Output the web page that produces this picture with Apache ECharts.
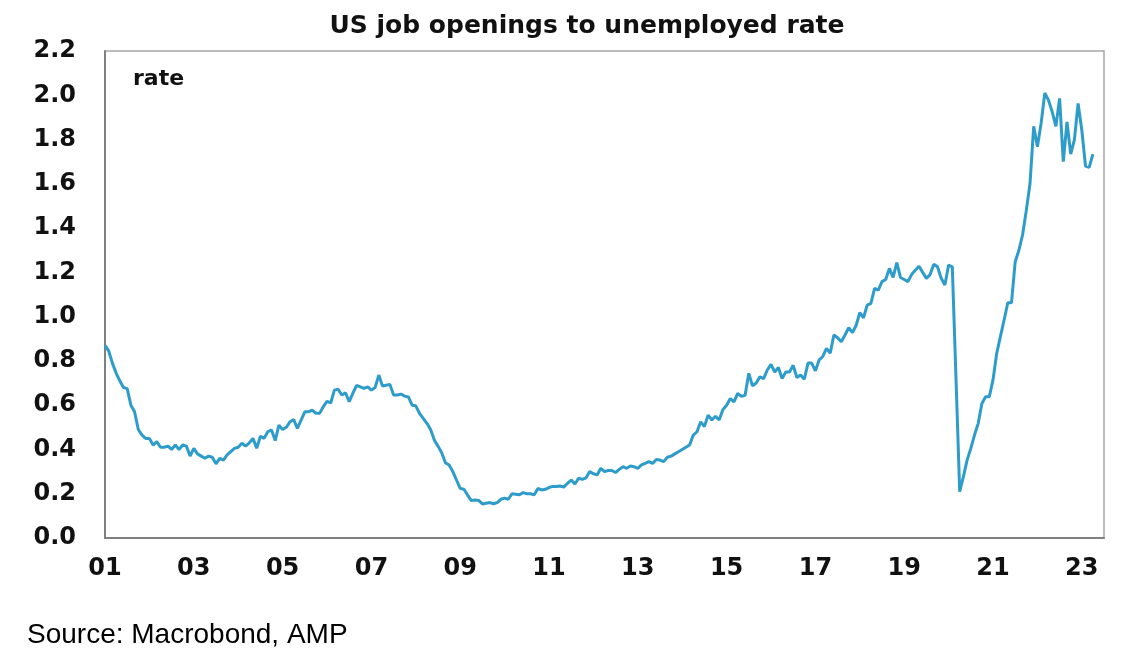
<!DOCTYPE html>
<html>
<head>
<meta charset="utf-8">
<script src="https://cdn.jsdelivr.net/npm/echarts@6/dist/echarts.min.js"></script>
<style>
  html, body { margin: 0; padding: 0; background: #ffffff; }
  #chart { width: 1126px; height: 659px; }
</style>
</head>
<body>
<div id="chart"></div>
<script>
// ---- Data ----
var titleText = 'US job openings to unemployed rate';
var unitLabel = 'rate';
var sourceText = 'Source: Macrobond, AMP';
var startYear = 2001;          // first month = Jan 2001
var xTickLabels = ['01','03','05','07','09','11','13','15','17','19','21','23'];
var yTickValues = [0.0,0.2,0.4,0.6,0.8,1.0,1.2,1.4,1.6,1.8,2.0,2.2];

// monthly ratio, Jan 2001 .. Apr 2023
var ratio = [
  0.87,0.845,0.79,0.745,0.71,0.68,0.675,0.60,0.57,0.49,0.465,0.45,            // 2001
  0.45,0.42,0.435,0.41,0.41,0.415,0.40,0.42,0.40,0.42,0.415,0.37,             // 2002
  0.405,0.38,0.37,0.36,0.37,0.365,0.335,0.36,0.352,0.375,0.39,0.405,          // 2003
  0.41,0.428,0.415,0.43,0.45,0.405,0.46,0.45,0.48,0.488,0.44,0.51,            // 2004
  0.49,0.50,0.525,0.535,0.495,0.533,0.57,0.57,0.578,0.563,0.563,0.593,        // 2005
  0.617,0.61,0.668,0.672,0.646,0.656,0.616,0.654,0.69,0.683,0.676,0.683,      // 2006
  0.668,0.68,0.736,0.686,0.69,0.694,0.646,0.646,0.65,0.641,0.637,0.60,        // 2007
  0.597,0.563,0.54,0.518,0.49,0.443,0.415,0.385,0.34,0.33,0.30,0.262,         // 2008
  0.224,0.22,0.194,0.169,0.172,0.17,0.154,0.157,0.16,0.155,0.16,0.175,        // 2009
  0.18,0.175,0.20,0.198,0.195,0.205,0.20,0.20,0.195,0.224,0.217,0.22,         // 2010
  0.228,0.233,0.233,0.235,0.23,0.247,0.262,0.244,0.27,0.265,0.272,0.30,       // 2011
  0.29,0.285,0.315,0.30,0.305,0.305,0.296,0.31,0.322,0.315,0.325,0.322,       // 2012
  0.315,0.33,0.337,0.345,0.337,0.355,0.352,0.345,0.365,0.37,0.38,0.39,        // 2013
  0.40,0.41,0.42,0.465,0.48,0.525,0.503,0.555,0.533,0.55,0.533,0.58,          // 2014
  0.60,0.63,0.615,0.653,0.64,0.645,0.744,0.687,0.70,0.728,0.72,0.759,         // 2015
  0.784,0.75,0.77,0.72,0.75,0.75,0.78,0.725,0.736,0.717,0.79,0.79,            // 2016
  0.755,0.804,0.82,0.857,0.835,0.917,0.905,0.887,0.917,0.95,0.928,0.96,       // 2017
  1.018,0.995,1.052,1.06,1.128,1.12,1.158,1.168,1.218,1.177,1.244,1.177,      // 2018
  1.168,1.158,1.19,1.21,1.228,1.20,1.173,1.19,1.237,1.225,1.173,1.143,        // 2019
  1.233,1.225,0.72,0.209,0.277,0.352,0.405,0.465,0.518,0.608,0.638,0.638,     // 2020
  0.714,0.834,0.91,0.985,1.063,1.063,1.248,1.30,1.37,1.48,1.60,1.86,          // 2021
  1.767,1.873,2.01,1.978,1.925,1.86,1.986,1.70,1.88,1.734,1.80,1.963,         // 2022
  1.843,1.68,1.674,1.734                                                      // 2023
];

// ---- Build series from the arrays ----
var seriesData = ratio.map(function (v, i) { return [i, v]; });

var FONT = 'DejaVu Sans';
var chart = echarts.init(document.getElementById('chart'));
chart.setOption({
  backgroundColor: '#ffffff',
  animation: false,
  title: {
    text: titleText,
    left: 582,
    textAlign: 'center',
    top: 9,
    textStyle: { fontFamily: FONT, fontWeight: 'bold', fontSize: 25, color: '#111111' }
  },
  grid: {
    left: 105, right: 22, top: 51, bottom: 121,
    show: true, borderColor: '#a6a6a6', borderWidth: 1.5, containLabel: false
  },
  xAxis: {
    type: 'value',
    min: 0, max: 270, interval: 24,
    axisLine: { show: true, lineStyle: { color: '#808080', width: 2 } },
    axisTick: { show: false },
    splitLine: { show: false },
    axisLabel: {
      margin: 19,
      fontFamily: FONT, fontWeight: 'bold', fontSize: 24, color: '#111111',
      showMaxLabel: false,
      formatter: function (v) {
        if (v % 24 !== 0) return '';
        return xTickLabels[v / 24] || '';
      }
    }
  },
  yAxis: {
    type: 'value',
    min: 0, max: 2.2, interval: 0.2,
    axisLine: { show: true, lineStyle: { color: '#808080', width: 2 } },
    axisTick: { show: false },
    splitLine: { show: false },
    axisLabel: {
      margin: 29,
      fontFamily: FONT, fontWeight: 'bold', fontSize: 24, color: '#111111',
      formatter: function (v) { return v.toFixed(1); }
    }
  },
  series: [{
    type: 'line',
    data: seriesData,
    showSymbol: false,
    symbol: 'none',
    lineStyle: { color: '#2E9CCA', width: 3 },
    itemStyle: { color: '#2E9CCA' }
  }],
  graphic: [
    {
      type: 'text', left: 133, top: 68,
      style: { text: unitLabel, fontFamily: FONT, fontWeight: 'bold', fontSize: 22, fill: '#111111' }
    },
    {
      type: 'text', left: 27, top: 621,
      style: { text: sourceText, fontFamily: 'Liberation Sans', fontSize: 28, fill: '#000000' }
    }
  ]
});
</script>
</body>
</html>
